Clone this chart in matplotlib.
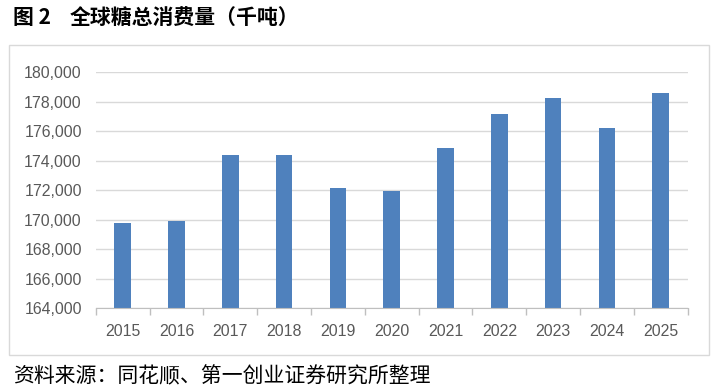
import matplotlib.pyplot as plt
from matplotlib.patches import Rectangle
from matplotlib.ticker import FuncFormatter, MultipleLocator
import numpy as np

years = ['2015', '2016', '2017', '2018', '2019', '2020',
         '2021', '2022', '2023', '2024', '2025']
consumption = [169750, 169930, 174360, 174360, 172180, 171950,
               174860, 177130, 178250, 176200, 178590]

title_num = '图 2'
title = '全球糖总消费量（千吨）'
source = '资料来源：同花顺、第一创业证券研究所整理'

plt.rcParams['font.family'] = ['Liberation Sans', 'Noto Sans CJK SC', 'DejaVu Sans']
cjk = ['Noto Sans CJK SC', 'DejaVu Sans']

fig = plt.figure(figsize=(7.18, 3.92), dpi=100)
ax = fig.add_axes([0.1333, 0.2135, 0.8245, 0.6028])

x = np.arange(len(years))
ax.bar(x, consumption, width=0.31, color='#4f81bd', zorder=3)

ax.set_ylim(164000, 180000)
ax.set_xlim(-0.5, len(years) - 0.5)
ax.yaxis.set_major_locator(MultipleLocator(2000))
ax.yaxis.set_major_formatter(FuncFormatter(lambda v, p: f'{int(v):,}'))
ax.grid(axis='y', color='#d9d9d9', linewidth=1, zorder=0)

ax.set_xticks(x)
ax.set_xticklabels(years)
ax.set_xticks(np.arange(-0.5, len(years)), minor=True)
ax.tick_params(axis='x', which='major', length=0, pad=11.5,
               labelsize=11.4, labelcolor='#595959')
ax.tick_params(axis='x', which='minor', length=5, color='#bfbfbf', width=1)
ax.tick_params(axis='y', length=0, pad=10, labelsize=11.4, labelcolor='#595959')

for side in ['top', 'right', 'left']:
    ax.spines[side].set_visible(False)
ax.spines['bottom'].set_color('#bfbfbf')
ax.spines['bottom'].set_zorder(4)

# 外框
frame = Rectangle((9 / 718, 1 - 355 / 392), 700 / 718, 310 / 392,
                  transform=fig.transFigure, fill=False,
                  edgecolor='#d9d9d9', linewidth=1)
fig.patches.append(frame)

fig.text(13 / 718, 1 - 18 / 392, title_num, fontsize=15, fontweight='bold',
         family=cjk, va='center', ha='left')
fig.text(70 / 718, 1 - 18 / 392, title, fontsize=15, fontweight='bold',
         family=cjk, va='center', ha='left')
fig.text(13 / 718, 1 - 376 / 392, source, fontsize=15,
         family=cjk, va='center', ha='left')

fig.savefig('out.png', dpi=100)
